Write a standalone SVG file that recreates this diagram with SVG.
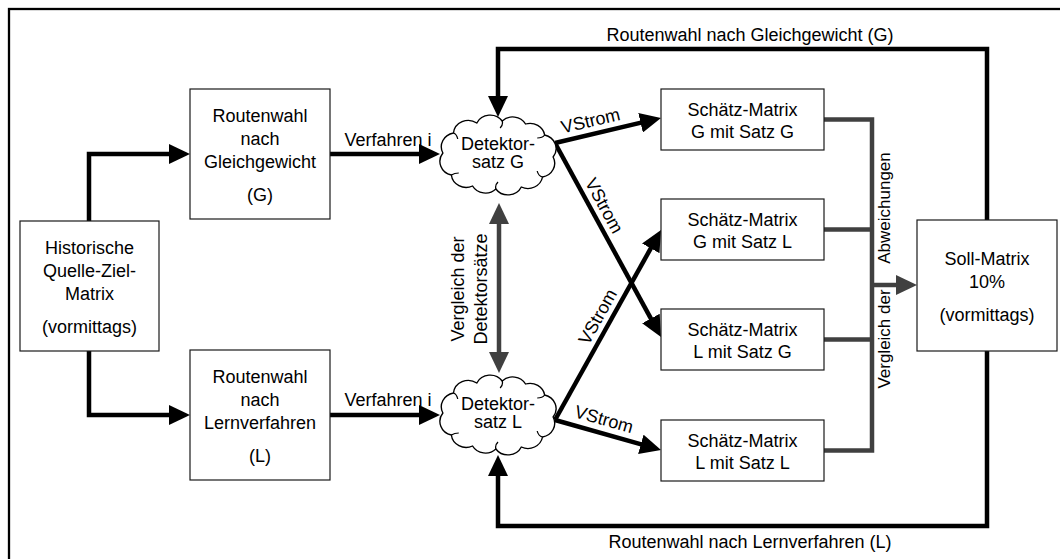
<svg xmlns="http://www.w3.org/2000/svg" width="1060" height="559" viewBox="0 0 1060 559">
  <defs>
    <style>
      text { font-family: "Liberation Sans", Arial, sans-serif; font-size: 18px; fill: #000; }
      .c { text-anchor: middle; }
      .sm { font-size: 17px; }
      .box { fill: #fff; stroke: #1a1a1a; stroke-width: 1.2; }
      .cloud { fill: #fff; stroke: #000; stroke-width: 1.3; }
      .curl { fill: none; stroke: #000; stroke-width: 1.2; }
      .blk { fill: none; stroke: #000; stroke-width: 4.5; stroke-linejoin: miter; }
      .gry { fill: none; stroke: #404040; stroke-width: 4.5; stroke-linejoin: miter; }
    </style>
    <marker id="ab" markerUnits="userSpaceOnUse" markerWidth="21" markerHeight="20" viewBox="0 0 21 20" refX="6" refY="10" orient="auto">
      <path d="M0,0 L21,10 L0,20 Z" fill="#000"/>
    </marker>
    <marker id="ag" markerUnits="userSpaceOnUse" markerWidth="21" markerHeight="20" viewBox="0 0 21 20" refX="6" refY="10" orient="auto-start-reverse">
      <path d="M0,0 L21,10 L0,20 Z" fill="#404040"/>
    </marker>
    <!-- scalloped cloud outline, centred on the origin -->
    <g id="cloudShape">
      <path class="cloud" d="M-52,-2 A14,14 0 0 1 -42,-22 A14,14 0 0 1 -20,-32 A14,14 0 0 1 4,-34 A14,14 0 0 1 26,-31 A14,14 0 0 1 44,-20 A14,14 0 0 1 52,2 A14,14 0 0 1 42,22 A14,14 0 0 1 22,32 A14,14 0 0 1 -2,34 A14,14 0 0 1 -24,31 A14,14 0 0 1 -44,20 A14,14 0 0 1 -52,-2 Z"/>
      <path class="curl" d="M-42,-22 q3,1 4,6 M4,-34 q1,4 -2,7 M44,-20 q-2,3 -7,3 M42,22 q-4,-1 -5,-6 M-2,34 q-1,-4 2,-7 M-44,20 q3,-2 7,-2"/>
    </g>
  </defs>

  <rect width="1060" height="559" fill="#fff"/>
  <!-- outer frame -->
  <rect x="9" y="9" width="1100" height="600" fill="none" stroke="#000" stroke-width="2.3"/>

  <g id="connectors">
    <!-- source matrix to both route choices -->
    <path class="blk" d="M89,221 V154 H175" marker-end="url(#ab)"/>
    <path class="blk" d="M89,351 V415 H175" marker-end="url(#ab)"/>
    <!-- Verfahren i -->
    <path class="blk" d="M330,154 H425" marker-end="url(#ab)"/>
    <path class="blk" d="M330,415 H425" marker-end="url(#ab)"/>
    <!-- feedback loops from the target matrix -->
    <path class="blk" d="M987,220 V49 H498 V102" marker-end="url(#ab)"/>
    <path class="blk" d="M987,351 V526 H498 V470" marker-end="url(#ab)"/>
    <!-- VStrom flows -->
    <path class="blk" d="M555,143 L646.4,121.4" marker-end="url(#ab)"/>
    <path class="blk" d="M555,143 L653.8,323.8" marker-end="url(#ab)"/>
    <path class="blk" d="M555,420 L653.7,243.1" marker-end="url(#ab)"/>
    <path class="blk" d="M555,420 L646.6,445.9" marker-end="url(#ab)"/>
    <!-- comparison of detector sets -->
    <path class="gry" d="M499,218 V358" marker-start="url(#ag)" marker-end="url(#ag)"/>
    <!-- comparison of deviations -->
    <path class="gry" d="M824,119.5 H872 M824,229.5 H872 M824,339.5 H872 M824,450.5 H872 M872,117.3 V452.7"/>
    <path class="gry" d="M872,285 H902" marker-end="url(#ag)"/>

    <text class="c" x="750" y="41">Routenwahl nach Gleichgewicht (G)</text>
    <text class="c" x="750" y="548">Routenwahl nach Lernverfahren (L)</text>
    <text class="c" x="388" y="146">Verfahren i</text>
    <text class="c" x="388" y="406">Verfahren i</text>
    <text class="c" transform="translate(592,126.6) rotate(-13.27)">VStrom</text>
    <text class="c" transform="translate(598.8,208.6) rotate(61.35)">VStrom</text>
    <text class="c" transform="translate(603,319.7) rotate(-60.85)">VStrom</text>
    <text class="c" transform="translate(602.4,425.1) rotate(15.8)">VStrom</text>
    <text class="c" transform="translate(464,289) rotate(-90)">Vergleich der</text>
    <text class="c" transform="translate(487,289) rotate(-90)">Detektorsätze</text>
    <text class="c sm" transform="translate(890,208) rotate(-90)">Abweichungen</text>
    <text class="c sm" transform="translate(890,339) rotate(-90)">Vergleich der</text>
  </g>

  <g id="historische-matrix">
    <rect class="box" x="20" y="221" width="139" height="130"/>
    <text class="c" x="89.5" y="254">Historische</text>
    <text class="c" x="89.5" y="277">Quelle-Ziel-</text>
    <text class="c" x="89.5" y="300">Matrix</text>
    <text class="c" x="89.5" y="333">(vormittags)</text>
  </g>

  <g id="routenwahl-g">
    <rect class="box" x="190" y="89" width="140" height="130"/>
    <text class="c" x="260" y="122">Routenwahl</text>
    <text class="c" x="260" y="145">nach</text>
    <text class="c" x="260" y="168">Gleichgewicht</text>
    <text class="c" x="260" y="201">(G)</text>
  </g>

  <g id="routenwahl-l">
    <rect class="box" x="190" y="350" width="140" height="130"/>
    <text class="c" x="260" y="383">Routenwahl</text>
    <text class="c" x="260" y="406">nach</text>
    <text class="c" x="260" y="429">Lernverfahren</text>
    <text class="c" x="260" y="462">(L)</text>
  </g>

  <g id="detektorsatz-g">
    <use href="#cloudShape" transform="translate(498,155) scale(1.06,1)"/>
    <text class="c" x="498" y="150">Detektor-</text>
    <text class="c" x="498" y="168">satz G</text>
  </g>

  <g id="detektorsatz-l">
    <use href="#cloudShape" transform="translate(498,415) scale(1.06,1)"/>
    <text class="c" x="498" y="410">Detektor-</text>
    <text class="c" x="498" y="428">satz L</text>
  </g>

  <g id="schaetz-gg">
    <rect class="box" x="661" y="89" width="163" height="61"/>
    <text class="c" x="742.5" y="116">Schätz-Matrix</text>
    <text class="c" x="742.5" y="138">G mit Satz G</text>
  </g>
  <g id="schaetz-gl">
    <rect class="box" x="661" y="199" width="163" height="61"/>
    <text class="c" x="742.5" y="226">Schätz-Matrix</text>
    <text class="c" x="742.5" y="248">G mit Satz L</text>
  </g>
  <g id="schaetz-lg">
    <rect class="box" x="661" y="309" width="163" height="61"/>
    <text class="c" x="742.5" y="336">Schätz-Matrix</text>
    <text class="c" x="742.5" y="358">L mit Satz G</text>
  </g>
  <g id="schaetz-ll">
    <rect class="box" x="661" y="420" width="163" height="61"/>
    <text class="c" x="742.5" y="447">Schätz-Matrix</text>
    <text class="c" x="742.5" y="469">L mit Satz L</text>
  </g>

  <g id="soll-matrix">
    <rect class="box" x="917" y="220" width="140" height="131"/>
    <text class="c" x="987" y="265">Soll-Matrix</text>
    <text class="c" x="987" y="288">10%</text>
    <text class="c" x="987" y="321">(vormittags)</text>
  </g>
</svg>
